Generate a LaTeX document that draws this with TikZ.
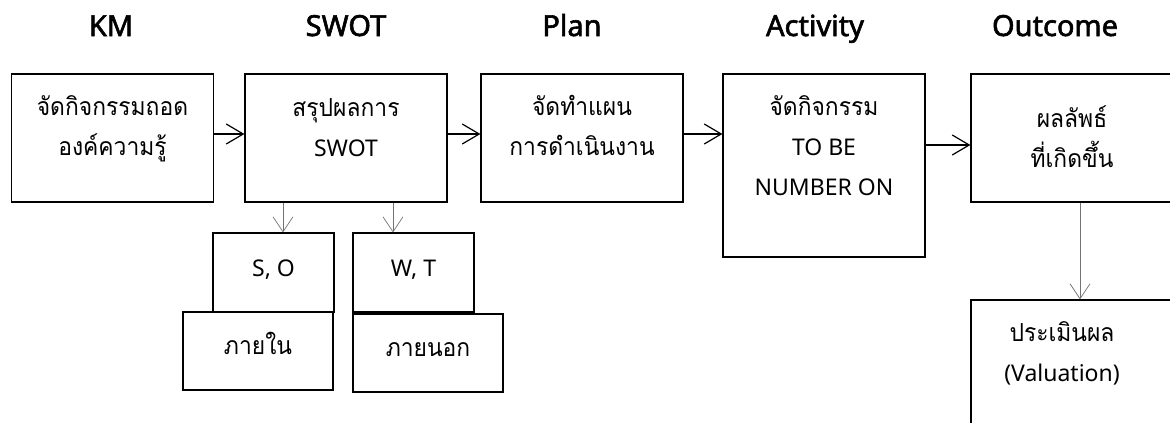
\documentclass[tikz,border=0pt]{standalone}
\usepackage{fontspec}
\setmainfont{Noto Sans}
\newfontfamily\thaifont[Script=Thai, Scale=1.08, FakeStretch=0.92]{Loma}
\newfontfamily\headfont[FakeBold=2]{Noto Sans}
\usetikzlibrary{arrows.meta}
\begin{document}
\begin{tikzpicture}[x=1pt, y=-1pt,
		box/.style={draw, line width=1.2pt, inner sep=0pt, minimum width=202pt, minimum height=128pt},
		small/.style={box, minimum width=121pt, minimum height=79pt},
		wide/.style={box, minimum width=150pt, minimum height=78pt},
		txt/.style={anchor=north, inner sep=0pt, align=center, font=\fontsize{23}{40}\selectfont, execute at begin node=\strut},
		head/.style={anchor=base, inner sep=0pt, font=\headfont\fontsize{29}{34}\selectfont},
		go/.style={line width=1.2pt, -{Straight Barb[length=17pt, width=20pt, line width=1.2pt]}},
		sub/.style={draw=black!55, line width=0.7pt, -{Straight Barb[length=15pt, width=20pt, line width=0.7pt]}}]
			\clip (0,0) rectangle (1170,423);

			% headings
			\node[head] (hkm) at (111, 36) {KM};
			\node[head] (hswot) at (346, 36) {SWOT};
			\node[head] (hplan) at (572, 36) {Plan};
			\node[head] (hact) at (815, 36) {Activity};
			\node[head] (hout) at (1055, 36) {Outcome};

			% main row
			\node[box] (km) at (112.5, 138) {};
			\node[box] (swot) at (346, 138) {};
			\node[box] (plan) at (582, 138) {};
			\node[box, minimum height=183pt] (act) at (824, 165.5) {};
			\node[box] (out) at (1072, 138) {};
			\node[box] (val) at (1072, 364) {};

			\node[txt] (kmtext) at ([yshift=-22pt]km.north) {{\thaifont จัดกิจกรรมถอด}\\{\thaifont องค์ความรู้}};
			\node[txt] (swottext) at ([yshift=-25pt]swot.north) {{\thaifont สรุปผลการ}\\SWOT};
			\node[txt] (plantext) at ([yshift=-22pt]plan.north) {{\thaifont จัดทำแผน}\\{\thaifont การดำเนินงาน}};
			\node[txt] (acttext) at ([yshift=-22pt]act.north) {{\thaifont จัดกิจกรรม}\\TO BE\\NUMBER ON};
			\node[txt] (outtext) at ([yshift=-32pt]out.north) {{\thaifont ผลลัพธ์}\\{\thaifont ที่เกิดขึ้น}};
			\node[txt] (valtext) at ([xshift=-10pt, yshift=-22pt]val.north) {{\thaifont ประเมินผล}\\(Valuation)};

			% SWOT parts
			\node[small] (so) at (273.5, 272.5) {};
			\node[small] (wt) at (413.5, 272.5) {};
			\node[wide] (inside) at (258, 351) {};
			\node[wide] (outside) at (428, 353) {};

			\node[txt] (sotext) at ([yshift=-16pt]so.north) {S, O};
			\node[txt] (wttext) at ([yshift=-16pt]wt.north) {W, T};
			\node[txt] (insidetext) at ([yshift=-15pt]inside.north) {{\thaifont ภายใน}};
			\node[txt] (outsidetext) at ([yshift=-15pt]outside.north) {{\thaifont ภายนอก}};

			% arrows
			\draw[go] ([yshift=4pt]km.east) -- ([yshift=4pt]swot.west);
			\draw[go] ([yshift=4pt]swot.east) -- ([yshift=4pt]plan.west);
			\draw[go] ([yshift=4pt]plan.east) -- ([yshift=31.5pt]act.west);
			\draw[go] ([yshift=20.5pt]act.east) -- ([yshift=-7pt]out.west);
			\draw[sub] ([xshift=-63pt]swot.south) -- ([xshift=9.5pt]so.north);
			\draw[sub] ([xshift=47pt]swot.south) -- ([xshift=-20.5pt]wt.north);
			\draw[sub] ([xshift=8pt]out.south) -- ([xshift=8pt]val.north);
		\end{tikzpicture}
\end{document}
